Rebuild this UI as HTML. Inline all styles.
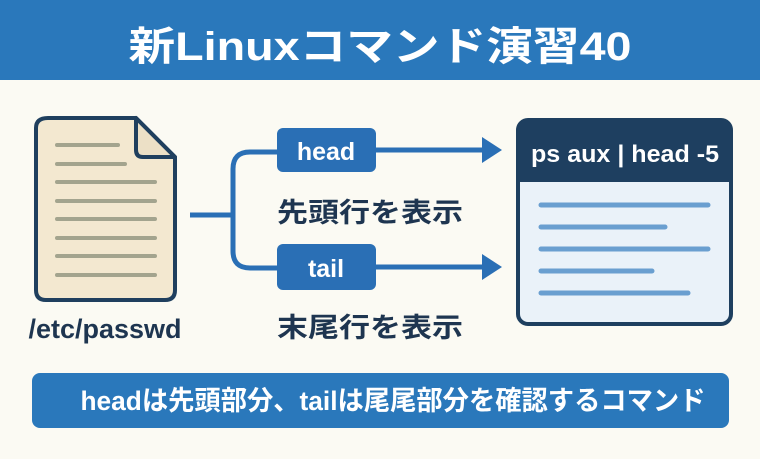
<!DOCTYPE html>
<html><head><meta charset="utf-8"><style>
html,body{margin:0;padding:0;background:#fbfaf3;}
svg{display:block;}
text{font-family:"Liberation Sans","Noto Sans CJK JP",sans-serif;font-weight:bold;}
</style></head><body>
<svg width="760" height="459" viewBox="0 0 760 459" xmlns="http://www.w3.org/2000/svg">
<rect width="760" height="459" fill="#fbfaf3"/>
<rect x="0" y="0" width="760" height="80" fill="#2a78bb"/>
<text x="380" y="60" font-size="40" fill="#fff" text-anchor="middle" textLength="503" lengthAdjust="spacingAndGlyphs">新Linuxコマンド演習40</text>

<!-- document -->
<path d="M48 118 H136 L175 157 V290 Q175 300 165 300 H46 Q36 300 36 290 V128 Q36 118 48 118 Z" fill="#f3e8d0" stroke="#1f3f5e" stroke-width="4" stroke-linejoin="round"/>
<path d="M136 118 V150 Q136 157 143 157 H175 Z" fill="#ece0c6" stroke="#1f3f5e" stroke-width="4" stroke-linejoin="round"/>
<g stroke="#a3a48e" stroke-width="4" stroke-linecap="round">
<line x1="57" y1="145" x2="118" y2="145"/>
<line x1="57" y1="164" x2="125" y2="164"/>
<line x1="57" y1="182" x2="155" y2="182"/>
<line x1="57" y1="201" x2="155" y2="201"/>
<line x1="57" y1="219" x2="155" y2="219"/>
<line x1="57" y1="238" x2="155" y2="238"/>
<line x1="57" y1="256" x2="155" y2="256"/>
<line x1="57" y1="275" x2="155" y2="275"/>
</g>
<text x="105" y="338" font-size="27" fill="#1e3550" text-anchor="middle">/etc/passwd</text>

<!-- connectors -->
<g stroke="#2a6fb5" stroke-width="5" fill="none">
<line x1="190" y1="215" x2="232" y2="215"/>
<path d="M280 152 H250 Q233 152 233 169 V251 Q233 268 250 268 H280"/>
<line x1="376" y1="150" x2="484" y2="150"/>
<line x1="376" y1="267" x2="484" y2="267"/>
</g>
<polygon points="482,137 502,150 482,163" fill="#2a6fb5"/>
<polygon points="482,254 502,267 482,280" fill="#2a6fb5"/>

<rect x="277" y="128" width="99" height="44" rx="6" fill="#2a6fb5"/>
<text x="326" y="160" font-size="25" fill="#fff" text-anchor="middle">head</text>
<rect x="277" y="244" width="99" height="46" rx="6" fill="#2a6fb5"/>
<text x="326" y="277" font-size="25" fill="#fff" text-anchor="middle">tail</text>

<text x="277" y="222" font-size="27" fill="#1e3550" textLength="186" lengthAdjust="spacingAndGlyphs">先頭行を表示</text>
<text x="277" y="337" font-size="27" fill="#1e3550" textLength="186" lengthAdjust="spacingAndGlyphs">末尾行を表示</text>

<!-- terminal box -->
<rect x="518" y="120" width="213" height="204" rx="10" fill="#eaf2f9" stroke="#1e3f5f" stroke-width="4"/>
<path d="M518 182 V130 Q518 120 528 120 H721 Q731 120 731 130 V182 Z" fill="#1e3f60"/>
<text x="625" y="162" font-size="24" fill="#fff" text-anchor="middle" font-weight="normal" textLength="188" lengthAdjust="spacingAndGlyphs">ps aux | head -5</text>
<g stroke="#6a9fd0" stroke-width="5" stroke-linecap="round">
<line x1="541" y1="205" x2="708" y2="205"/>
<line x1="541" y1="227" x2="665" y2="227"/>
<line x1="541" y1="249" x2="708" y2="249"/>
<line x1="541" y1="271" x2="652" y2="271"/>
<line x1="541" y1="293" x2="688" y2="293"/>
</g>

<!-- bottom bar -->
<rect x="32" y="373" width="697" height="55" rx="8" fill="#2a78bb"/>
<text x="393" y="410" font-size="27" fill="#fff" text-anchor="middle" textLength="625" lengthAdjust="spacingAndGlyphs">headは先頭部分、tailは尾尾部分を確認するコマンド</text>
</svg>
</body></html>
